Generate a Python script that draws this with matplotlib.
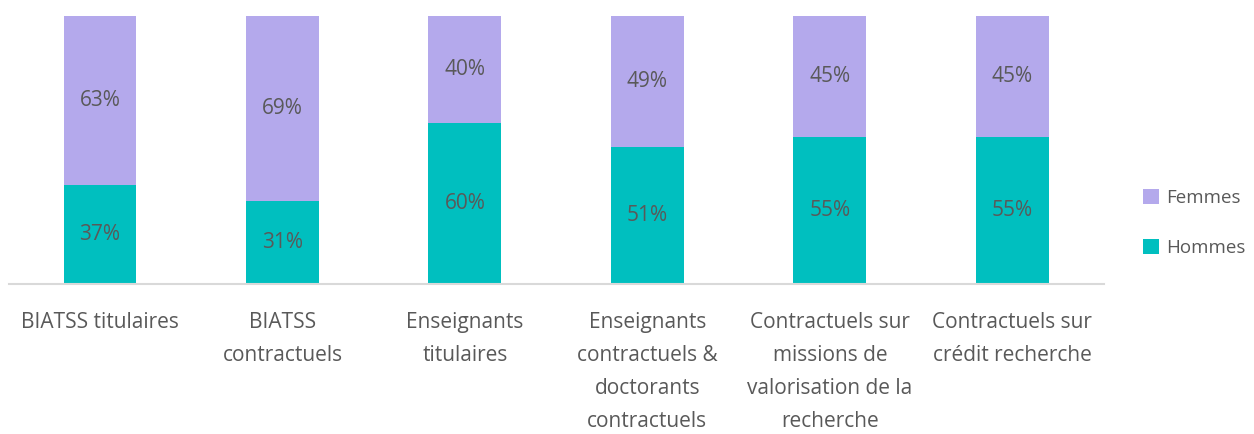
import matplotlib.pyplot as plt

categories = [
    "BIATSS titulaires",
    "BIATSS\ncontractuels",
    "Enseignants\ntitulaires",
    "Enseignants\ncontractuels &\ndoctorants\ncontractuels",
    "Contractuels sur\nmissions de\nvalorisation de la\nrecherche",
    "Contractuels sur\ncrédit recherche",
]
hommes = [37, 31, 60, 51, 55, 55]
femmes = [63, 69, 40, 49, 45, 45]

plt.rcParams['font.family'] = ['Open Sans', 'DejaVu Sans']
text_color = '#595959'

fig = plt.figure(figsize=(12.54, 4.34), dpi=100)
ax = fig.add_axes([0.007, 0.3456, 0.873, 0.6175])

x = range(len(categories))
b1 = ax.bar(x, hommes, width=0.4, color='#00BFBF', label='Hommes')
b2 = ax.bar(x, femmes, width=0.4, bottom=hommes, color='#B4A9EC', label='Femmes')

for i in x:
    ax.text(i, hommes[i] / 2, f"{hommes[i]}%", ha='center', va='center',
            fontsize=15, color=text_color)
    ax.text(i, hommes[i] + femmes[i] / 2, f"{femmes[i]}%", ha='center', va='center',
            fontsize=15, color=text_color)

ax.set_xlim(-0.5, len(categories) - 0.5)
ax.set_ylim(0, 100)
ax.set_xticks(list(x))
ax.set_xticklabels(categories, fontsize=15, color=text_color, linespacing=1.75, va='top')
ax.tick_params(axis='x', length=0, pad=20)
ax.set_yticks([])
for s in ['top', 'right', 'left']:
    ax.spines[s].set_visible(False)
ax.spines['bottom'].set_color('#D9D9D9')
ax.spines['bottom'].set_linewidth(1.5)

handles = [b2, b1]
leg = fig.legend(handles, ['Femmes', 'Hommes'], loc='center left',
                 bbox_to_anchor=(0.898, 0.486), frameon=False, fontsize=13.5,
                 labelspacing=1.7, handlelength=0.85, handleheight=0.85,
                 handletextpad=0.4)
for t in leg.get_texts():
    t.set_color(text_color)

fig.savefig('out.png', dpi=100)
